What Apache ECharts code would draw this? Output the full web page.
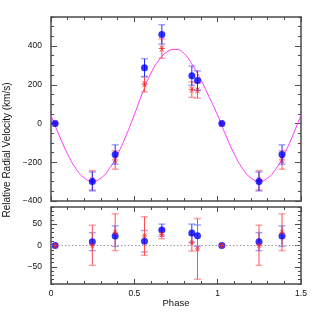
<!DOCTYPE html>
<html><head><meta charset="utf-8">
<script src="https://cdn.jsdelivr.net/npm/echarts@6/dist/echarts.min.js"></script>
<style>html,body{margin:0;padding:0;background:#fff}#c{width:319px;height:319px}</style>
</head><body><div id="c"></div>
<script>
// ---- data ----
const phases      = [0.025, 0.248, 0.385, 0.561, 0.665, 0.845, 0.879, 1.025, 1.248, 1.386];
const blueRV      = [0, -299, -160, 288, 460, 247, 222, 0, -299, -160];
const blueRVErr   = [0, 49, 50, 47, 50, 50, 50, 0, 49, 50];
const redRV       = [0, -293, -188, 203, 387, 175, 171, 0, -293, -188];
const redRVErr    = [0, 50, 48, 40, 50, 40, 40, 0, 50, 48];
const blueRes     = [0, 9, 22, 10, 36, 29, 23, 0, 9, 22];
const blueResErr  = [0, 21, 24, 25, 14, 21, 25, 0, 21, 24];
const redRes      = [0, 0.5, 31, 22, 26, 6, -8, 0, 0.5, 31];
const redResErr   = [0, 47, 43, 45, 10, 19, 71, 0, 47, 43];
const curvePhase  = [0,0.05,0.1,0.15,0.2,0.25,0.3,0.35,0.4,0.45,0.5,0.55,0.6,0.65,0.7,0.75,0.8,0.85,0.9,0.95,1.0,1.05,1.1,1.15,1.2,1.25,1.3,1.35,1.4,1.45,1.5];
const curveRV     = [42,-63,-158,-233,-281,-298,-281,-233,-158,-63,45,160,260,330,372,383,360,300,225,135,42,-63,-158,-233,-281,-298,-281,-233,-158,-63,45];
const xTicks      = [0, 0.5, 1, 1.5];
const xTickLabels = ['0', '0.5', '1', '1.5'];
const yTicksTop   = [-400, -200, 0, 200, 400];
const yLabelsTop  = ['\u2212400', '\u2212200', '0', '200', '400'];
const yTicksBot   = [-50, 0, 50];
const yLabelsBot  = ['\u221250', '0', '50'];

function range(a, b, s) { const r = []; for (let v = a; v <= b + 1e-9; v += s) r.push(+v.toFixed(6)); return r; }
const xMinor = range(0, 1.5, 0.1);
const yMinorTop = range(-400, 550, 50);
const yMinorBot = range(-90, 90, 10);

const FRAME = '#4a4a4a';
const FONT = 'Liberation Sans';

function xAx(grid, pos, vals, len, labels, line) {
  return {
    type: 'value', gridIndex: grid, position: pos, min: 0, max: 1.5,
    axisLine: { show: line, onZero: false, lineStyle: { color: FRAME, width: 1.5 } },
    axisTick: { show: true, inside: true, length: len, customValues: vals, lineStyle: { color: FRAME, width: 1 } },
    axisLabel: labels ? { show: true, customValues: xTicks, margin: 5, color: '#111', fontSize: 8.5, fontFamily: FONT,
      formatter: v => xTickLabels[xTicks.findIndex(t => Math.abs(t - v) < 1e-6)] } : { show: false },
    splitLine: { show: false }
  };
}
function yAx(grid, pos, min, max, vals, len, ticks, labels, line) {
  return {
    type: 'value', gridIndex: grid, position: pos, min: min, max: max,
    axisLine: { show: line, onZero: false, lineStyle: { color: FRAME, width: 1.5 } },
    axisTick: { show: true, inside: true, length: len, customValues: vals, lineStyle: { color: FRAME, width: 1 } },
    axisLabel: labels ? { show: true, customValues: ticks, margin: 9, color: '#111', fontSize: 8.5, fontFamily: FONT,
      formatter: v => labels[ticks.findIndex(t => Math.abs(t - v) < 1e-6)] } : { show: false },
    splitLine: { show: false }
  };
}

function errRender(barColor, capColor) {
  return function (params, api) {
    const x = api.value(0), y = api.value(1), e = api.value(2);
    if (!e) return null;
    const lo = api.coord([x, y - e]), hi = api.coord([x, y + e]);
    const w = 3.5;
    return { type: 'group', children: [
      { type: 'line', shape: { x1: lo[0], y1: lo[1], x2: hi[0], y2: hi[1] }, style: { stroke: barColor, lineWidth: 1 } },
      { type: 'line', shape: { x1: lo[0] - w, y1: lo[1], x2: lo[0] + w, y2: lo[1] }, style: { stroke: capColor, lineWidth: 1.5 } },
      { type: 'line', shape: { x1: hi[0] - w, y1: hi[1], x2: hi[0] + w, y2: hi[1] }, style: { stroke: capColor, lineWidth: 1.5 } }
    ] };
  };
}
const zip = (a, b, c) => a.map((v, i) => c ? [v, b[i], c[i]] : [v, b[i]]);

const BLUE = '#0000ff', BLUEBAR = '#2a2aff', BLUECAP = 'rgba(90,90,255,0.55)';
const RED = '#ff2020', REDBAR = '#ff4a4a', REDCAP = 'rgba(255,90,90,0.55)';
const STAR = 'path://M-5,0L5,0M-3,-4.5L3,4.5M-3,4.5L3,-4.5';

const chart = echarts.init(document.getElementById('c'), null, { renderer: 'canvas' });
chart.setOption({
  animation: false,
  backgroundColor: '#fff',
  grid: [
    { left: 51, top: 17, width: 250, height: 184 },
    { left: 51, top: 207, width: 250, height: 77 }
  ],
  xAxis: [
    xAx(0, 'bottom', xTicks, 5, false, true),
    xAx(0, 'top', xTicks, 5, false, true),
    xAx(1, 'bottom', xTicks, 5, true, true),
    xAx(1, 'top', xTicks, 5, false, true),
    xAx(0, 'bottom', xMinor, 3, false, false),
    xAx(0, 'top', xMinor, 3, false, false),
    xAx(1, 'bottom', xMinor, 3, false, false),
    xAx(1, 'top', xMinor, 3, false, false)
  ],
  yAxis: [
    yAx(0, 'left', -400, 550, yTicksTop, 6, yTicksTop, yLabelsTop, true),
    yAx(0, 'right', -400, 550, yTicksTop, 6, yTicksTop, null, true),
    yAx(1, 'left', -90, 90, yTicksBot, 6, yTicksBot, yLabelsBot, true),
    yAx(1, 'right', -90, 90, yTicksBot, 6, yTicksBot, null, true),
    yAx(0, 'left', -400, 550, yMinorTop, 3, null, null, false),
    yAx(0, 'right', -400, 550, yMinorTop, 3, null, null, false),
    yAx(1, 'left', -90, 90, yMinorBot, 3, null, null, false),
    yAx(1, 'right', -90, 90, yMinorBot, 3, null, null, false)
  ],
  graphic: [
    { type: 'text', x: 7, y: 150, rotation: Math.PI / 2,
      style: { text: 'Relative Radial Velocity (km/s)', fill: '#111', font: '10px "Liberation Sans"', align: 'center', verticalAlign: 'middle' } },
    { type: 'text', x: 176, y: 303,
      style: { text: 'Phase', fill: '#111', font: '9.5px "Liberation Sans"', align: 'center', verticalAlign: 'middle' } }
  ],
  series: [
    { type: 'line', xAxisIndex: 0, yAxisIndex: 0, data: zip(curvePhase, curveRV), smooth: 0.5, showSymbol: false,
      lineStyle: { color: '#ff33ff', width: 1 }, z: 1, silent: true },
    { type: 'custom', xAxisIndex: 0, yAxisIndex: 0, data: zip(phases, redRV, redRVErr), renderItem: errRender(REDBAR, REDCAP), z: 2 },
    { type: 'scatter', xAxisIndex: 0, yAxisIndex: 0, data: zip(phases, redRV), symbol: STAR, symbolSize: 6,
      itemStyle: { color: 'none', borderColor: RED, borderWidth: 1 }, z: 3 },
    { type: 'custom', xAxisIndex: 0, yAxisIndex: 0, data: zip(phases, blueRV, blueRVErr), renderItem: errRender(BLUEBAR, BLUECAP), z: 4 },
    { type: 'scatter', xAxisIndex: 0, yAxisIndex: 0, data: zip(phases, blueRV), symbol: 'circle', symbolSize: 7,
      itemStyle: { color: BLUE }, z: 5 },

    { type: 'line', xAxisIndex: 2, yAxisIndex: 2, data: [], showSymbol: false,
      markLine: { silent: true, symbol: 'none', label: { show: false }, lineStyle: { color: '#999', type: [1.5, 2], width: 1 }, data: [{ yAxis: 0 }] } },
    { type: 'custom', xAxisIndex: 2, yAxisIndex: 2, data: zip(phases, blueRes, blueResErr), renderItem: errRender(BLUEBAR, BLUECAP), z: 2 },
    { type: 'custom', xAxisIndex: 2, yAxisIndex: 2, data: zip(phases, redRes, redResErr), renderItem: errRender(REDBAR, REDCAP), z: 3 },
    { type: 'scatter', xAxisIndex: 2, yAxisIndex: 2, data: zip(phases, blueRes), symbol: 'circle', symbolSize: 7,
      itemStyle: { color: BLUE }, z: 4 },
    { type: 'scatter', xAxisIndex: 2, yAxisIndex: 2, data: zip(phases, redRes), symbol: STAR, symbolSize: 5,
      itemStyle: { color: 'none', borderColor: RED, borderWidth: 1 }, z: 5 }
  ]
});
</script>
</body></html>
